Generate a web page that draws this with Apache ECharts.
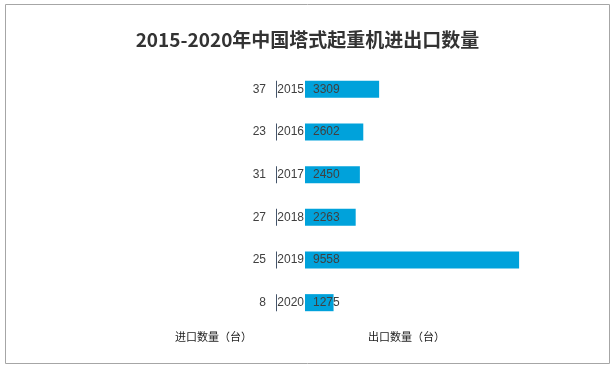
<!DOCTYPE html>
<html>
<head>
<meta charset="utf-8">
<script src="https://cdn.jsdelivr.net/npm/echarts@6/dist/echarts.min.js"></script>
<style>html,body{margin:0;padding:0;background:#fff}#c{width:615px;height:369px}</style>
</head>
<body>
<div id="c"></div>
<script>
const years = ['2015', '2016', '2017', '2018', '2019', '2020'];
const importValues = [37, 23, 31, 27, 25, 8];
const exportValues = [3309, 2602, 2450, 2263, 9558, 1275];
const titleText = '2015-2020年中国塔式起重机进出口数量';
const importName = '进口数量（台）';
const exportName = '出口数量（台）';

const chart = echarts.init(document.getElementById('c'), null, {renderer: 'canvas'});
const txt = '#404040';
const font = '"Liberation Sans", Arial, sans-serif';
chart.setOption({
  animation: false,
  backgroundColor: '#fff',
  title: {
    text: titleText, left: 'center', top: 25,
    textStyle: {fontSize: 19, fontWeight: 'bold', color: '#333333', fontFamily: '"Noto Sans CJK SC", sans-serif'}
  },
  graphic: [
    {type: 'rect', shape: {x: 5.5, y: 4.5, width: 604, height: 359}, style: {fill: 'none', stroke: '#A6A6A6', lineWidth: 1}, silent: true},
    {type: 'text', left: 175, top: 331, style: {text: importName, fontSize: 11, fill: '#222', fontFamily: '"Noto Sans CJK SC", sans-serif'}},
    {type: 'text', left: 368, top: 331, style: {text: exportName, fontSize: 11, fill: '#222', fontFamily: '"Noto Sans CJK SC", sans-serif'}}
  ],
  grid: [
    {left: 60, right: 338, top: 68, height: 256},
    {left: 305, right: 86, top: 68, height: 256}
  ],
  xAxis: [
    {type: 'value', gridIndex: 0, inverse: true, min: 0, max: 10000, show: false},
    {type: 'value', gridIndex: 1, min: 0, max: 10000, show: false}
  ],
  yAxis: [
    {type: 'category', gridIndex: 0, inverse: true, data: years, show: false},
    {type: 'category', gridIndex: 1, inverse: true, data: years,
     axisLine: {show: false}, axisTick: {show: false},
     axisLabel: {margin: 1, fontSize: 12, color: txt, fontFamily: font}}
  ],
  series: [
    {type: 'bar', xAxisIndex: 0, yAxisIndex: 0, data: importValues, barCategoryGap: '60%', barMinHeight: 1,
     itemStyle: {color: '#44546A'},
     label: {show: true, position: 'left', distance: 10, fontSize: 12, color: txt, fontFamily: font}},
    {type: 'bar', xAxisIndex: 1, yAxisIndex: 1, data: exportValues, barCategoryGap: '60%',
     itemStyle: {color: '#00A2DB'},
     label: {show: true, position: 'insideLeft', distance: 8, fontSize: 12, color: txt, fontFamily: font}}
  ]
});
</script>
</body>
</html>
